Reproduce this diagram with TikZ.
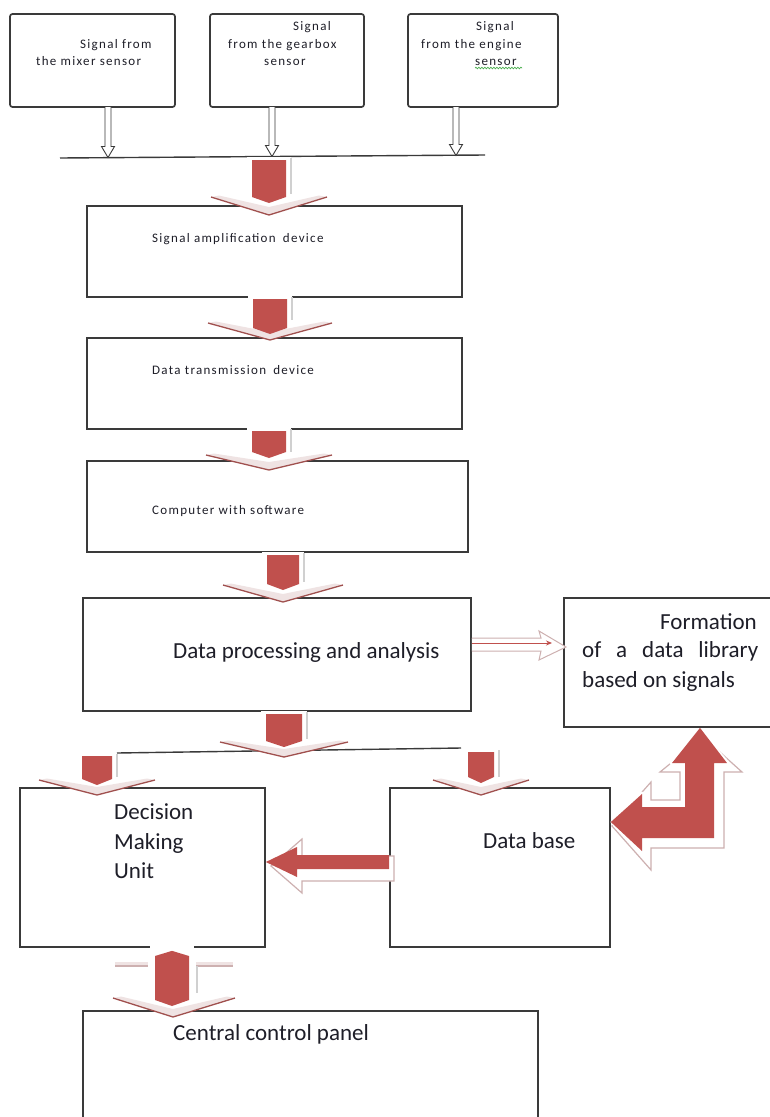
\documentclass[tikz,border=0pt]{standalone}
\usepackage{fontspec}
\setmainfont{Carlito}
\newfontfamily\smallfont[LetterSpace=10]{Carlito}
\usetikzlibrary{fit,decorations.pathmorphing,arrows.meta}

\definecolor{boxline}{HTML}{3A3A3A}
\definecolor{arrowred}{HTML}{C0504D}
\definecolor{chevedge}{HTML}{A0504E}
\definecolor{chevfill}{HTML}{EFE3E3}
\definecolor{glowgray}{HTML}{D0D0D0}
\definecolor{ink}{HTML}{1E1E28}
\definecolor{shadowline}{HTML}{CDB0B0}
\definecolor{squiggle}{HTML}{4CAF50}

\tikzset{
  box/.style={draw=boxline, line width=1.7pt, fill=white, inner sep=0pt},
  topbox/.style={box, rounded corners=2.5pt},
  bigtext/.style={font=\fontsize{23}{29}\selectfont, text=ink, inner sep=0pt, anchor=base west},
  smalltext/.style={font=\smallfont\fontsize{13}{16}\selectfont, text=ink, inner sep=0pt, anchor=base west},
  busline/.style={draw=boxline, line width=1.4pt},
}

% thick red down arrow with a pale chevron head:
% #1 centre x, #2 top, #3 tip of red shaft, #4 chevron wing level, #5 chevron apex,
% #6 chevron half width, #7 shaft half width
\newcommand\blockarrow[7]{%
  \fill[white] (#1-#7-5,#2-1) rectangle (#1+#7+5,#4);
  \fill[white] (#1-#6,#4) -- (#1,#5) -- (#1+#6,#4) -- cycle;
  \draw[glowgray, line width=1.5pt] (#1+#7+5,#2) -- (#1+#7+5,#4-3);
  \fill[chevfill] (#1-#6,#4) -- (#1,#5) -- (#1+#6,#4) -- (#1+#6-8,#4-1.5)
        -- (#1,#5-8) -- (#1-#6+8,#4-1.5) -- cycle;
  \draw[chevedge, line width=1.3pt, line join=round] (#1-#6,#4) -- (#1,#5) -- (#1+#6,#4);
  \fill[arrowred] (#1-#7,#2+2) -- (#1+#7,#2+2) -- (#1+#7,#3-6) -- (#1,#3)
        -- (#1-#7,#3-6) -- cycle;
}

% small hollow arrow from a sensor box down to the bus line
\newcommand\sensorarrow[3]{%
  \filldraw[fill=white, draw=boxline, line width=0.9pt]
    (#1-3,#2) -- (#1-3,#3-11) -- (#1-6.5,#3-11) -- (#1,#3) -- (#1+6.5,#3-11)
    -- (#1+3,#3-11) -- (#1+3,#2);
}

\begin{document}
\begin{tikzpicture}[x=1pt,y=-1pt]
\useasboundingbox (0,0) rectangle (770,1117);

% ---------- sensor boxes ----------
\node[topbox, fit={(10,14) (175,107)}] (mixer) {};
\node[topbox, fit={(210,14) (364,107)}] (gearbox) {};
\node[topbox, fit={(408,14) (558,107)}] (engine) {};

\node[smalltext] (mixerA) at (80,48) {Signal from};
\node[smalltext] (mixerB) at (36,65) {the mixer sensor};
\node[smalltext] (gearA) at (293,30) {Signal};
\node[smalltext] (gearB) at (228,48) {from the gearbox};
\node[smalltext] (gearC) at (264,65) {sensor};
\node[smalltext] (engA) at (476,30) {Signal};
\node[smalltext] (engB) at (421,48) {from the engine};
\node[smalltext] (engC) at (475,65) {sensor};
\draw[squiggle, line width=0.7pt, decorate,
      decoration={snake, amplitude=0.8pt, segment length=3pt}]
  (engC.base west) ++(0,3) -- ++(47,0);

% bus line collecting the three signals
\coordinate (busL) at (60,158);
\coordinate (busR) at (485,155);
\draw[busline] (busL) -- (busR);
\sensorarrow{108}{107}{157.5}
\sensorarrow{272}{107}{156.5}
\sensorarrow{456}{107}{155.5}

% ---------- main chain ----------
\node[box, fit={(87,206) (462,297)}] (amp) {};
\node[smalltext] (ampT) at (152,242) {Signal amplification\hspace{3pt} device};

\node[box, fit={(87,338) (462,429)}] (trans) {};
\node[smalltext] (transT) at (152,374) {Data transmission\hspace{3pt} device};

\node[box, fit={(87,461) (468,552)}] (comp) {};
\node[smalltext] (compT) at (152,514) {Computer with software};

\node[box, fit={(83,598) (471,711)}] (proc) {};
\node[bigtext] (procT) at (173,658) {Data processing and analysis};

\node[box, fit={(564,598) (776,727)}] (form) {};
\node[bigtext, anchor=base east] (formA) at (757,629) {Formation};
\node[bigtext] (formB) at (582,657) {\makebox[176pt][s]{of a data library}};
\node[bigtext] (formC) at (582,687) {based on signals};

\node[box, fit={(20,788) (265,947)}] (dec) {};
\node[bigtext] (decA) at (114,819) {Decision};
\node[bigtext] (decB) at (114,849) {Making};
\node[bigtext] (decC) at (114,878) {Unit};

\node[box, fit={(390,788) (610,947)}] (db) {};
\node[bigtext] (dbT) at (483,848) {Data base};

\node[box, fit={(83,1011) (538,1140)}] (panel) {};
\node[bigtext] (panelT) at (173,1040) {Central control panel};

% split line below the analysis block
\coordinate (splitL) at (117,753);
\coordinate (splitR) at (461,748);
\draw[busline] (splitL) -- (splitR);

% ---------- red block arrows ----------
\blockarrow{269}{158}{203}{197}{215}{58}{17}
\blockarrow{270}{297}{334}{323}{340}{62}{17}
\blockarrow{269}{429}{458}{455}{470}{63}{17}
\blockarrow{283}{553}{590}{585}{602}{60}{16}
\blockarrow{284}{712}{747}{742}{757}{64}{18}
\blockarrow{97}{754}{785}{780}{795}{58}{15}
\blockarrow{481}{750}{783}{780}{795}{48}{13}

% analysis -> library: thin hollow arrow
\filldraw[fill=white, draw=shadowline, line width=1pt]
  (proc.east |- 0,638) -- (541,638) -- (539,631) -- (566,647) -- (539,660)
  -- (541,651) -- (proc.east |- 0,651);
\draw[arrowred, line width=0.9pt, -{Stealth[length=6pt,width=5pt]}]
  (proc.east |- 0,643) -- (552,643);

% data base -> decision unit: left arrow with pale shadow
\filldraw[fill=white, draw=shadowline, line width=1.2pt]
  (271,866) -- (302,839) -- (302,856) -- (394,856) -- (394,881) -- (302,881)
  -- (302,893) -- cycle;
\fill[arrowred] (dec.east |- 0,862) -- (297,847) -- (297,855) -- (db.west |- 0,855)
  -- (db.west |- 0,869) -- (297,869) -- (297,877) -- cycle;

% data base -> library: bent arrow with pale shadow
\filldraw[fill=white, draw=shadowline, line width=1.2pt]
  (703,737) -- (742,772) -- (724,772) -- (724,848) -- (651,848) -- (651,870)
  -- (612,826) -- (651,782) -- (651,800) -- (680,800) -- (680,772) -- (660,772) -- cycle;
\draw[white, line width=5pt, line join=round]
  (700,733) -- (727,763) -- (714,763) -- (714,838) -- (642,838) -- (642,851)
  -- (613,822) -- (642,794) -- (642,807) -- (685,807) -- (685,763) -- (672,763) -- cycle;
\fill[arrowred]
  (form.south -| 700,0) -- (727,763) -- (714,763) -- (714,838) -- (642,838) -- (642,851)
  -- (db.east |- 0,822) -- (642,794) -- (642,807) -- (685,807) -- (685,763) -- (672,763) -- cycle;

% decision unit -> control panel
\fill[white] (150,944) rectangle (194,1000);
\draw[chevfill, line width=3pt] (115,963) -- (148,963) (196,963) -- (233,963);
\draw[shadowline, line width=1.2pt] (115,966) -- (148,966) (196,966) -- (233,966);
\draw[glowgray, line width=1.5pt] (197,966) -- (197,993);
\fill[white] (113,998) -- (173,1017) -- (235,998) -- cycle;
\fill[chevfill] (113,998) -- (173,1017) -- (235,998) -- (227,996.5) -- (173,1009)
  -- (121,996.5) -- cycle;
\draw[chevedge, line width=1.3pt, line join=round] (113,998) -- (173,1017) -- (235,998);
\fill[arrowred] (dec.south -| 172,0) ++(0,3) -- (189,956) -- (189,1000) -- (172,1006)
  -- (155,1000) -- (155,956) -- cycle;
\end{tikzpicture}
\end{document}
